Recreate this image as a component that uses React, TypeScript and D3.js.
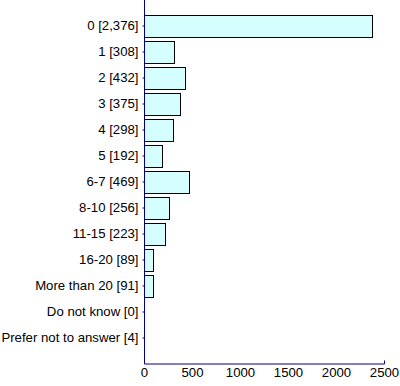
import { useEffect, useRef } from "react";
import * as d3 from "d3";

const CATEGORIES = ["0", "1", "2", "3", "4", "5", "6-7", "8-10", "11-15", "16-20", "More than 20", "Do not know", "Prefer not to answer"];
const COUNTS = [2376, 308, 432, 375, 298, 192, 469, 256, 223, 89, 91, 0, 4];
const X_TICKS = [0, 500, 1000, 1500, 2000, 2500];

const W = 400, H = 386;
const AXIS = "#000080";
const FONT = "'Liberation Sans', Arial, sans-serif";

export default function App() {
  const svgRef = useRef<SVGSVGElement>(null);

  useEffect(() => {
    if (!svgRef.current) return;
    const svg = d3.select(svgRef.current);
    svg.selectAll("*").remove();

    const fmt = d3.format(",");
    const labels = CATEGORIES.map((c, i) => `${c} [${fmt(COUNTS[i])}]`);
    const rows = labels.map((l, i) => ({ label: l, value: COUNTS[i] }));

    const left = 144, right = 384, top = 0, bottom = 363;
    const x = d3.scaleLinear().domain([0, 2500]).range([left, right]);
    const y = d3.scaleBand().domain(labels).range([13, 351]).paddingInner(0.15).paddingOuter(0.075);

    svg.selectAll("rect.bar").data(rows.filter(d => d.value > 0)).join("rect")
      .attr("class", "bar")
      .attr("x", left + 0.5).attr("y", d => Math.round(y(d.label)!) + 0.5)
      .attr("width", d => Math.max(0, Math.round(x(d.value) - left)))
      .attr("height", Math.round(y.bandwidth()))
      .attr("fill", "#d5ffff").attr("stroke", "#000").attr("stroke-width", 1);

    // y axis
    const ya = svg.append("g").attr("transform", `translate(${left + 0.5},0)`)
      .call(d3.axisLeft(y).tickSizeInner(2).tickSizeOuter(0).tickPadding(4));
    ya.select(".domain").remove();
    ya.selectAll("line").attr("stroke", AXIS);
    ya.selectAll("text").attr("font-family", FONT).attr("font-size", "13.2px").attr("fill", "#000");
    svg.append("line").attr("x1", left + 0.5).attr("x2", left + 0.5).attr("y1", top).attr("y2", bottom + 0.5)
      .attr("stroke", AXIS).attr("stroke-width", 1);

    // x axis
    const xa = svg.append("g").attr("transform", `translate(0,${bottom + 0.5})`)
      .call(d3.axisBottom(x).tickValues(X_TICKS).tickFormat(d3.format("d")).tickSizeInner(0).tickSizeOuter(-3).tickPadding(4));
    xa.select(".domain").attr("stroke", AXIS);
    xa.selectAll("text").attr("font-family", FONT).attr("font-size", "13.2px").attr("fill", "#000");
  }, []);

  return (
    <svg ref={svgRef} width={W} height={H}
      style={{ position: "absolute", left: 0, top: 0, background: "#fff" }} />
  );
}
